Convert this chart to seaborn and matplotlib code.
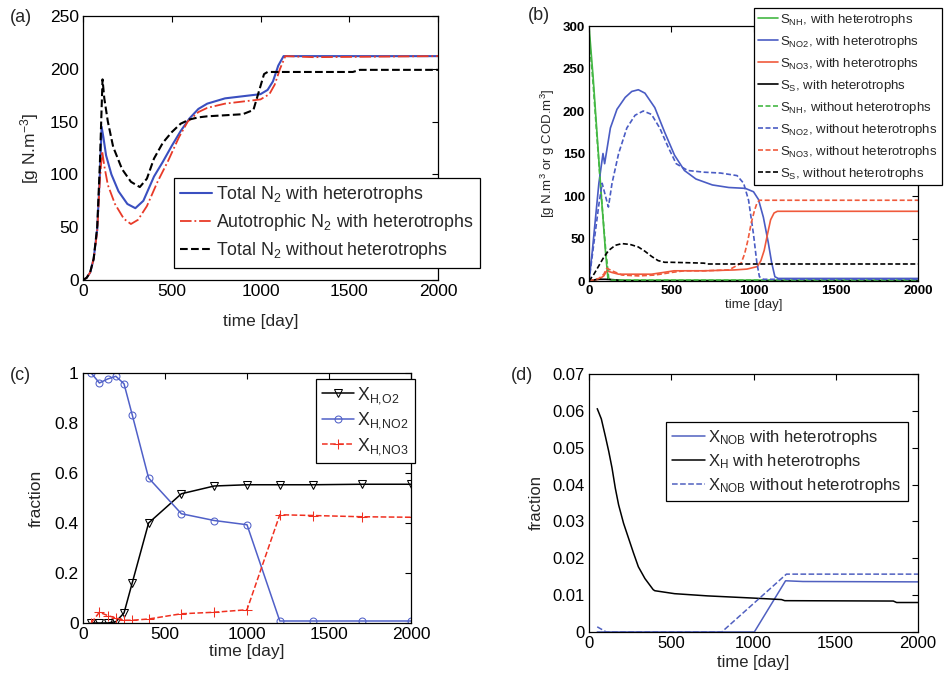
import matplotlib
matplotlib.use("Agg")
import matplotlib.pyplot as plt
import seaborn as sns

# ---- panel (a): N2 production ----
a_blue_t = [0, 20, 40, 60, 80, 95, 105, 115, 130, 160, 200, 250, 295, 340, 400, 450, 500,
            550, 600, 650, 700, 800, 900, 1000, 1040, 1070, 1100, 1130, 1200, 1500, 2000]
a_blue_y = [0, 2, 7, 20, 48, 100, 145, 135, 118, 100, 84, 72, 68, 75, 98, 112, 127,
            141, 153, 162, 167, 172, 174, 176, 180, 188, 203, 212, 212, 212, 212]
a_red_t = [0, 20, 40, 60, 80, 95, 108, 120, 140, 180, 230, 270, 310, 360, 420, 480, 540,
           590, 650, 700, 800, 900, 1000, 1050, 1080, 1110, 1140, 1300, 2000]
a_red_y = [0, 2, 7, 20, 46, 95, 122, 108, 90, 72, 58, 53, 57, 70, 93, 113, 135,
           150, 159, 163, 167, 169, 171, 176, 185, 200, 212, 211, 212]
a_black_t = [0, 20, 40, 60, 80, 95, 110, 120, 140, 170, 220, 270, 320, 360, 400, 450, 500,
             550, 600, 650, 700, 800, 900, 960, 990, 1020, 1040, 1200, 1520, 1560, 2000]
a_black_y = [0, 2, 7, 20, 50, 110, 190, 172, 150, 126, 105, 93, 88, 96, 115, 130, 140,
             148, 152, 154, 155, 156, 157, 161, 178, 195, 197, 197, 197, 199, 199]

# ---- panel (b): soluble compounds ----
b_nh_with_t = [0, 25, 50, 75, 100, 115, 140, 300, 1000, 2000]
b_nh_with_y = [300, 240, 170, 100, 35, 3, 1, 1, 1, 1]
b_nh_without_t = [0, 25, 50, 75, 100, 120, 140, 300, 1000, 2000]
b_nh_without_y = [290, 232, 165, 100, 40, 3, 1, 1, 1, 1]
b_no2_with_t = [0, 20, 40, 60, 85, 95, 105, 130, 170, 220, 260, 300, 340, 400, 460, 520, 580,
                650, 750, 850, 950, 1000, 1030, 1060, 1090, 1110, 1130, 1150, 2000]
b_no2_with_y = [0, 35, 75, 115, 150, 138, 150, 180, 202, 216, 223, 225, 221, 204, 175, 148, 130,
                120, 113, 110, 109, 105, 96, 75, 45, 22, 5, 3, 3]
b_no2_without_t = [0, 20, 40, 60, 80, 100, 118, 140, 180, 230, 280, 330, 380, 430, 480, 530,
                   600, 700, 800, 900, 940, 970, 1000, 1020, 1036, 1060, 2000]
b_no2_without_y = [0, 30, 60, 90, 115, 100, 87, 115, 150, 180, 195, 200, 196, 180, 158, 138,
                   130, 128, 127, 124, 115, 95, 55, 22, 5, 2, 2]
b_no3_with_t = [0, 60, 90, 108, 140, 180, 300, 380, 450, 517, 700, 882, 960, 1024, 1045, 1065,
                1085, 1104, 1125, 1145, 2000]
b_no3_with_y = [0, 2, 6, 12, 10, 8, 8, 8, 10, 12, 12, 13, 14, 17, 24, 36, 55, 72, 80, 82, 82]
b_no3_without_t = [0, 60, 90, 108, 140, 200, 300, 400, 500, 578, 700, 850, 925, 946, 966, 986,
                   1006, 1020, 1036, 2000]
b_no3_without_y = [0, 3, 8, 15, 12, 7, 6, 7, 10, 12, 12, 13, 21, 32, 48, 68, 83, 91, 95, 95]
b_ss_with_t = [0, 50, 100, 150, 200, 300, 2000]
b_ss_with_y = [0, 2, 2, 1.5, 0.5, 0, 0]
b_ss_without_t = [0, 30, 60, 90, 120, 160, 200, 250, 300, 340, 380, 420, 460, 500, 700, 720,
                  1000, 2000]
b_ss_without_y = [0, 8, 18, 28, 36, 42, 44, 43, 40, 35, 29, 24, 22, 22, 21, 20, 20, 20]

# ---- panel (c): heterotroph fractions ----
c_t = [50, 100, 150, 200, 250, 300, 400, 600, 800, 1000, 1200, 1400, 1700, 2000]
c_o2 = [0, 0, 0, 0.005, 0.04, 0.16, 0.40, 0.517, 0.548, 0.553, 0.553, 0.553, 0.555, 0.555]
c_no2 = [1.0, 0.96, 0.976, 0.987, 0.957, 0.833, 0.58, 0.437, 0.41, 0.393, 0.008, 0.008, 0.008, 0.008]
c_no3 = [0, 0.043, 0.03, 0.02, 0.011, 0.011, 0.016, 0.037, 0.043, 0.053, 0.433, 0.43, 0.425, 0.423]

# ---- panel (d): biomass fractions ----
d_xh_t = [50, 75, 100, 120, 140, 160, 180, 210, 240, 270, 300, 340, 390, 400, 520, 720, 1000,
          1170, 1190, 1850, 1870, 2000]
d_xh_y = [0.0606, 0.0578, 0.053, 0.049, 0.0445, 0.039, 0.0345, 0.0295, 0.0255, 0.0215, 0.0177,
          0.0145, 0.0115, 0.0112, 0.0104, 0.0098, 0.0092, 0.0088, 0.0085, 0.0084, 0.0080, 0.0080]
d_nob_with_t = [50, 1005, 1195, 1300, 2000]
d_nob_with_y = [0, 0, 0.0139, 0.0137, 0.0136]
d_nob_without_t = [50, 105, 807, 1200, 2000]
d_nob_without_y = [0.0014, 0, 0, 0.0157, 0.0157]

sns.set_theme(style="white")
plt.rcParams["font.family"] = ["Liberation Sans", "DejaVu Sans"]
plt.rcParams["mathtext.default"] = "regular"
plt.rcParams["axes.edgecolor"] = "black"
plt.rcParams["axes.linewidth"] = 0.9

W, H = 951, 673
fig = plt.figure(figsize=(W / 100, H / 100), dpi=100)


def box(x0, y0, x1, y1):
    return [x0 / W, 1 - y1 / H, (x1 - x0) / W, (y1 - y0) / H]


def style_axes(ax, size):
    ax.set_xlim(0, 2000)
    ax.set_xticks([0, 500, 1000, 1500, 2000])
    ax.tick_params(direction="in", top=True, right=True, length=4, width=0.8,
                   labelsize=size, colors="black", pad=3)
    for s in ax.spines.values():
        s.set_color("black")


def legend(ax, handles_at, size, **kw):
    leg = ax.legend(loc="upper left", bbox_to_anchor=(handles_at[0] / W, 1 - handles_at[1] / H),
                    bbox_transform=fig.transFigure, borderaxespad=0, fancybox=False,
                    edgecolor="black", framealpha=1, fontsize=size, **kw)
    leg.get_frame().set_linewidth(0.9)
    return leg


# (a)
ax = fig.add_axes(box(83, 16, 438, 280))
blue_a, red_a = "#3a4fc0", "#e83a28"
sns.lineplot(x=a_blue_t, y=a_blue_y, ax=ax, color=blue_a, lw=1.5, label="Total N$_2$ with heterotrophs")
sns.lineplot(x=a_red_t, y=a_red_y, ax=ax, color=red_a, lw=1.3, linestyle="-.",
             label="Autotrophic N$_2$ with heterotrophs")
sns.lineplot(x=a_black_t, y=a_black_y, ax=ax, color="black", lw=1.5, linestyle="--",
             label="Total N$_2$ without heterotrophs")
style_axes(ax, 12.5)
ax.set_ylim(0, 250)
ax.set_yticks(range(0, 251, 50))
ax.set_xlabel("time [day]", fontsize=12.5, labelpad=11)
ax.set_ylabel("[g N.m$^{-3}$]", fontsize=12.5, labelpad=6)
legend(ax, (174, 178), 12.8, handlelength=1.8, labelspacing=0.4, borderpad=0.35, handletextpad=0.2)
fig.text(10 / W, 1 - 18 / H, "(a)", fontsize=13, va="center")

# (b)
ax = fig.add_axes(box(589, 26, 918, 281))
green, blue_b, red_b = "#44b844", "#4a5cc4", "#f05a3c"
dash = (0, (3, 1.5))
sns.lineplot(x=b_nh_with_t, y=b_nh_with_y, ax=ax, color=green, lw=1.2, label="S$_{NH}$, with heterotrophs")
sns.lineplot(x=b_no2_with_t, y=b_no2_with_y, ax=ax, color=blue_b, lw=1.2, label="S$_{NO2}$, with heterotrophs")
sns.lineplot(x=b_no3_with_t, y=b_no3_with_y, ax=ax, color=red_b, lw=1.2, label="S$_{NO3}$, with heterotrophs")
sns.lineplot(x=b_ss_with_t, y=b_ss_with_y, ax=ax, color="black", lw=1.2, label="S$_S$, with heterotrophs")
sns.lineplot(x=b_nh_without_t, y=b_nh_without_y, ax=ax, color=green, lw=1.2, linestyle=dash,
             label="S$_{NH}$, without heterotrophs")
sns.lineplot(x=b_no2_without_t, y=b_no2_without_y, ax=ax, color=blue_b, lw=1.2, linestyle=dash,
             label="S$_{NO2}$, without heterotrophs")
sns.lineplot(x=b_no3_without_t, y=b_no3_without_y, ax=ax, color=red_b, lw=1.2, linestyle=dash,
             label="S$_{NO3}$, without heterotrophs")
sns.lineplot(x=b_ss_without_t, y=b_ss_without_y, ax=ax, color="black", lw=1.2, linestyle=dash,
             label="S$_S$, without heterotrophs")
style_axes(ax, 9.5)
ax.set_ylim(0, 300)
ax.set_yticks(range(0, 301, 50))
for t in ax.get_xticklabels() + ax.get_yticklabels():
    t.set_fontweight("bold")
ax.set_xlabel("time [day]", fontsize=9.5, labelpad=1)
ax.set_ylabel("[g N.m$^{3}$ or g COD.m$^{3}$]", fontsize=9.5, labelpad=4)
legend(ax, (754, 8), 9.5, handlelength=1.5, labelspacing=0.45, borderpad=0.3, handletextpad=0.2)
fig.text(528 / W, 1 - 16 / H, "(b)", fontsize=13, va="center")

# (c)
ax = fig.add_axes(box(83, 373, 411, 623))
blue_c, red_c = "#5060c8", "#f03020"
sns.lineplot(x=c_t, y=c_o2, ax=ax, color="black", lw=1.1, marker="v", markersize=6,
             markerfacecolor="none", markeredgecolor="black", label="X$_{H{,}O2}$")
sns.lineplot(x=c_t, y=c_no2, ax=ax, color=blue_c, lw=1.1, marker="o", markersize=5,
             markerfacecolor="none", markeredgecolor=blue_c, label="X$_{H{,}NO2}$")
sns.lineplot(x=c_t, y=c_no3, ax=ax, color=red_c, lw=1.1, linestyle="--", marker="+", markersize=7,
             markeredgecolor=red_c, label="X$_{H{,}NO3}$")
style_axes(ax, 12.5)
ax.set_ylim(0, 1)
ax.set_yticks([0, 0.2, 0.4, 0.6, 0.8, 1])
ax.set_yticklabels(["0", "0.2", "0.4", "0.6", "0.8", "1"])
ax.set_xlabel("time [day]", fontsize=12.5, labelpad=1)
ax.set_ylabel("fraction", fontsize=12.5, labelpad=8)
legend(ax, (316, 379), 12.8, handlelength=1.8, labelspacing=0.25, borderpad=0.35, handletextpad=0.15)
fig.text(10 / W, 1 - 375 / H, "(c)", fontsize=13, va="center")

# (d)
ax = fig.add_axes(box(589, 374, 918, 632))
blue_d = "#5060c0"
sns.lineplot(x=d_nob_with_t, y=d_nob_with_y, ax=ax, color=blue_d, lw=1.1, label="X$_{NOB}$ with heterotrophs")
sns.lineplot(x=d_xh_t, y=d_xh_y, ax=ax, color="black", lw=1.1, label="X$_H$ with heterotrophs")
sns.lineplot(x=d_nob_without_t, y=d_nob_without_y, ax=ax, color=blue_d, lw=1.1, linestyle="--",
             label="X$_{NOB}$ without heterotrophs")
style_axes(ax, 12)
ax.set_ylim(0, 0.07)
ax.set_yticks([0, 0.01, 0.02, 0.03, 0.04, 0.05, 0.06, 0.07])
ax.set_yticklabels(["0", "0.01", "0.02", "0.03", "0.04", "0.05", "0.06", "0.07"])
ax.set_xlabel("time [day]", fontsize=12, labelpad=3)
ax.set_ylabel("fraction", fontsize=12, labelpad=6)
legend(ax, (666, 422), 12, handlelength=2.0, labelspacing=0.3, borderpad=0.35, handletextpad=0.2)
fig.text(511 / W, 1 - 376 / H, "(d)", fontsize=13, va="center")

fig.savefig("out.png", dpi=100)
